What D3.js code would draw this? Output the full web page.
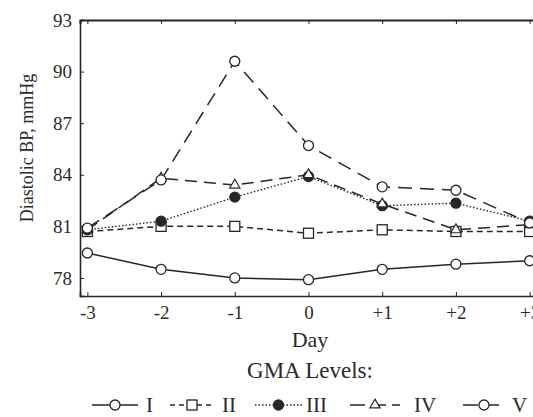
<!DOCTYPE html>
<html>
<head>
<meta charset="utf-8">
<script src="https://cdn.jsdelivr.net/npm/d3@7"></script>
<style>
  body { margin: 0; background: #fff; }
  text { font-family: "Liberation Serif", "DejaVu Serif", serif; fill: #2a2a2a; }
</style>
</head>
<body>
<svg id="canvas" width="533" height="417"></svg>
<script>
// chart values
let days = [-3, -2, -1, 0, 1, 2, 3]
let dayLabels = ['-3', '-2', '-1', '0', '+1', '+2', '+3']
let yTicks = [78, 81, 84, 87, 90, 93]

let levelI   = [79.45, 78.5, 78.0, 77.9, 78.5, 78.8, 79.0]
let levelII  = [80.7, 81.0, 81.0, 80.6, 80.8, 80.7, 80.7]
let levelIII = [80.8, 81.3, 82.7, 83.9, 82.2, 82.35, 81.3]
let levelIV  = [80.8, 83.8, 83.4, 84.0, 82.3, 80.8, 81.1]
let levelV   = [80.9, 83.7, 90.6, 85.7, 83.3, 83.1, 81.2]

let seriesNames = ['I', 'II', 'III', 'IV', 'V']

let svg = d3.select('#canvas')
let ink = '#262626'

let mLeft = 80, mRight = 537, mTop = 20, mBottom = 296

let x = d3.scaleLinear().domain([-3.1, 3.1]).range([mLeft, mRight])
let y = d3.scaleLinear().domain([76.95, 93]).range([mBottom, mTop])

// series table built from the arrays
let series = [
  {name: 'I',   vals: levelI,   dash: null,    mark: 'circle'},
  {name: 'II',  vals: levelII,  dash: '6,4',   mark: 'square'},
  {name: 'III', vals: levelIII, dash: '1.5,2', mark: 'dot'},
  {name: 'IV',  vals: levelIV,  dash: '12,7',  mark: 'triangle'},
  {name: 'V',   vals: levelV,   dash: '14,8',  mark: 'circle'}
]

// axes
let yAxis = d3.axisLeft(y).tickValues(yTicks).tickSize(-4).tickPadding(8)
let gy = svg.append('g').attr('transform', `translate(${mLeft},0)`).call(yAxis)
gy.select('.domain').attr('stroke', ink).attr('stroke-width', 1.6)
gy.selectAll('.tick line').attr('stroke', ink)
gy.selectAll('text').style('font-size', '19px').attr('fill', ink)

let xAxis = d3.axisBottom(x).tickValues(days).tickFormat((d, i) => dayLabels[i]).tickSize(-4).tickPadding(10)
let gx = svg.append('g').attr('transform', `translate(0,${mBottom})`).call(xAxis)
gx.select('.domain').attr('stroke', ink).attr('stroke-width', 1.6)
gx.selectAll('.tick line').attr('stroke', ink)
gx.selectAll('text').style('font-size', '19px').attr('fill', ink)

let xTop = d3.axisTop(x).tickValues(days).tickFormat('').tickSize(-4)
let gt = svg.append('g').attr('transform', `translate(0,${mTop})`).call(xTop)
gt.select('.domain').attr('stroke', ink).attr('stroke-width', 2)
gt.selectAll('.tick line').attr('stroke', ink)

// axis titles
svg.append('text')
   .attr('transform', `translate(33,148) rotate(-90)`)
   .attr('text-anchor', 'middle')
   .style('font-size', '18px')
   .text('Diastolic BP, mmHg')

svg.append('text')
   .attr('x', 310).attr('y', 347)
   .attr('text-anchor', 'middle')
   .style('font-size', '22px')
   .text('Day')

svg.append('text')
   .attr('x', 310).attr('y', 378)
   .attr('text-anchor', 'middle')
   .style('font-size', '23px')
   .text('GMA Levels:')

let drawMark = (g, kind, cx, cy) => {
    if (kind === 'circle' || kind === 'dot') {
        g.append('circle').attr('cx', cx).attr('cy', cy).attr('r', 5)
         .attr('fill', kind === 'dot' ? ink : '#fff')
         .attr('stroke', ink).attr('stroke-width', 1.3)
    } else if (kind === 'square') {
        g.append('rect').attr('x', cx - 5).attr('y', cy - 5).attr('width', 10).attr('height', 10)
         .attr('fill', '#fff').attr('stroke', ink).attr('stroke-width', 1.3)
    } else {
        let s = d3.symbol().type(d3.symbolTriangle).size(45)
        g.append('path').attr('d', s()).attr('transform', `translate(${cx},${cy})`)
         .attr('fill', '#fff').attr('stroke', ink).attr('stroke-width', 1.2)
    }
}

let line = d3.line().x((d, i) => x(days[i])).y(d => y(d))

let plot = svg.append('g')
series.forEach(s => {
    plot.append('path')
        .attr('d', line(s.vals))
        .attr('fill', 'none')
        .attr('stroke', ink)
        .attr('stroke-width', s.name === 'III' ? 1.4 : 1.5)
        .attr('stroke-dasharray', s.dash)
})
series.forEach(s => {
    s.vals.forEach((v, i) => drawMark(plot, s.mark, x(days[i]), y(v)))
})

// legend
let legendPos = [
  {x1: 92, x2: 138, tx: 146},
  {x1: 170, x2: 214, tx: 222},
  {x1: 255, x2: 302, tx: 306},
  {x1: 350, x2: 400, tx: 414},
  {x1: 463, x2: 505, tx: 512}
]
let ly = 405
let legend = svg.append('g')
series.forEach((s, i) => {
    let p = legendPos[i]
    legend.append('line')
          .attr('x1', p.x1).attr('x2', p.x2).attr('y1', ly).attr('y2', ly)
          .attr('stroke', ink).attr('stroke-width', 1.5)
          .attr('stroke-dasharray', s.name === 'I' ? null : (s.name === 'III' ? '1.5,2' : (s.name === 'II' ? '5,4' : '15,6')))
    drawMark(legend, s.mark, (p.x1 + p.x2) / 2, ly)
    legend.append('text')
          .attr('x', p.tx).attr('y', ly + 7)
          .style('font-size', '21px')
          .text(seriesNames[i])
})
</script>
</body>
</html>
